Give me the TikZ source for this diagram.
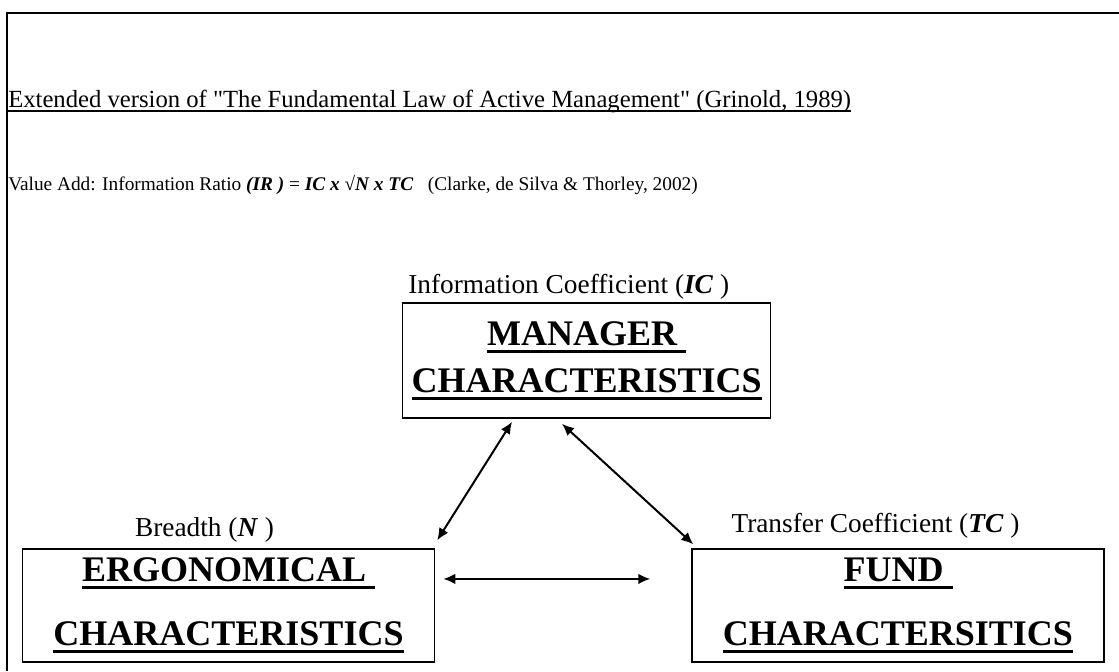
\documentclass[tikz,border=0pt]{standalone}
\usepackage{fontspec}
\setmainfont{Liberation Serif}[Ligatures=TeXOff]
\usetikzlibrary{positioning,calc,arrows.meta}

% heavy underline at a fixed depth below the baseline
\newcommand{\ulbar}[1]{\leavevmode\setbox0=\hbox{#1}\rlap{\rule[-0.21em]{\wd0}{0.08em}}\box0}
\newcommand{\bi}[1]{\textbf{\textit{#1}}}

\begin{document}
\begin{tikzpicture}[
	box/.style={draw, line width=1.1pt, minimum width=309pt, minimum height=84.75pt, inner sep=0pt, align=center, font=\fontsize{27pt}{48pt}\selectfont\bfseries},
	tag/.style={inner sep=0pt, font=\fontsize{20.5pt}{23pt}\selectfont},
	link/.style={<->, >={Latex[length=9pt,width=8pt]}, line width=1.5pt},
	node distance=192pt]
	\useasboundingbox (0,0) rectangle (839.25pt,-503.25pt);
	\draw[line width=1.5pt] (839.25pt,-9.75pt) -| (5.25pt,-503.25pt);

	\node[anchor=base west, inner sep=0pt, font=\fontsize{18.5pt}{22pt}\selectfont] (title) at (6pt,-80.25pt)
		{\ulbar{Extended version of "The Fundamental Law of Active Management" (Grinold, 1989)}};
	\node[anchor=base west, inner sep=0pt, font=\fontsize{14.5pt}{17pt}\selectfont] (law) at (6pt,-142.5pt)
		{Value Add: Information Ratio \bi{(IR )} = \bi{IC x} √\bi{N x TC}\ \ \ (Clarke, de Silva \& Thorley, 2002)};

	% the three characteristics
	\node[box] (erg) at (171.4pt,-454.1pt) {\ulbar{ERGONOMICAL\ }\\\ulbar{CHARACTERISTICS}};
	\node[box, right=of erg] (fund) {\ulbar{FUND\ }\\\ulbar{CHARACTERSITICS}};
	\node[box, minimum width=276pt, minimum height=86.25pt, font=\fontsize{27pt}{35pt}\selectfont\bfseries,
		above=140pt of $(erg)!0.5!(fund)$, xshift=17.6pt] (mgr) {\ulbar{MANAGER\ }\\\ulbar{CHARACTERISTICS}};

	\node[tag, above=6.75pt of mgr.north, anchor=base, xshift=-13.5pt] (ic) {Information Coefficient (\bi{IC} )};
	\node[tag, above=9pt of erg.north, anchor=base, xshift=-18pt] (n) {Breadth (\bi{N} )};
	\node[tag, above=12pt of fund.north, anchor=base, xshift=-16.9pt] (tc) {Transfer Coefficient (\bi{TC} )};

	\draw[link] ([shift={(82.5pt,-2.25pt)}]mgr.south west) -- ([shift={(1.5pt,6pt)}]erg.north east);
	\draw[link] ([shift={(120pt,-3.75pt)}]mgr.south west) -- ([shift={(1.5pt,3pt)}]fund.north west);
	\draw[link] ([shift={(6pt,19.9pt)}]erg.east) -- ([shift={(-30.75pt,19.9pt)}]fund.west);
\end{tikzpicture}
\end{document}
